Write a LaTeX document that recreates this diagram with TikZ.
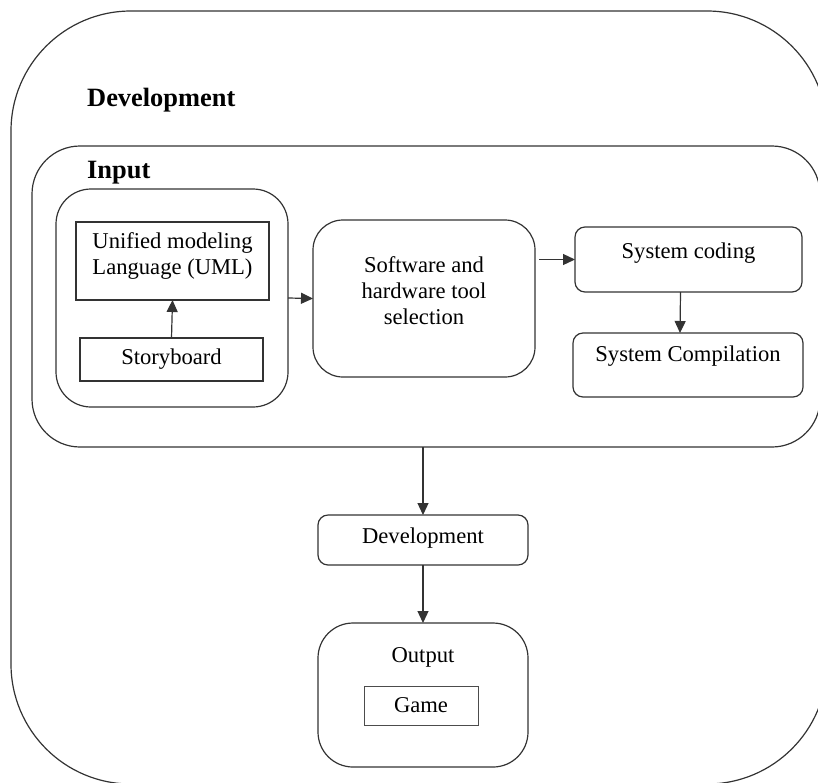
\documentclass[tikz,border=0pt]{standalone}
\usepackage{fontspec}
\setmainfont{Liberation Serif}
\usetikzlibrary{arrows.meta}
\begin{document}
\begin{tikzpicture}[x=1pt,y=-1pt,
  line/.style={draw=black!80, line width=1.2pt},
  frame/.style={line, anchor=north west, inner sep=0pt, outer sep=0pt},
  txt/.style={font=\fontsize{22.6}{26}\selectfont, align=center, inner sep=0pt},
  head/.style={font=\fontsize{26.4}{30}\selectfont\bfseries, inner sep=0pt, anchor=base west},
  arr/.style={line, -{Triangle[length=12pt,width=11pt]}}
]
\useasboundingbox (0,0) rectangle (818,782);
\clip (0,0) rectangle (818,782);

% outer development frame and the input frame
\node[frame, rounded corners=120pt, minimum width=816pt, minimum height=773pt] (devframe) at (11,11) {};
\node[frame, rounded corners=48pt, minimum width=788pt, minimum height=301pt] (inputbox) at (32,146) {};
\node[head] (devhead) at (87,106) {Development};
\node[head] (inhead) at (87,178) {Input};

% modelling group
\node[frame, rounded corners=35pt, minimum width=232pt, minimum height=218pt] (group) at (56,189) {};
\node[frame, minimum width=193pt, minimum height=78pt] (uml) at (76,222) {};
\node[txt] (umltxt) at ([yshift=5pt]uml.center) {Unified modeling\\Language (UML)};
\node[frame, minimum width=183pt, minimum height=43pt] (story) at (80,338) {};
\node[txt] (storytxt) at (story.center) {Storyboard};

% tool selection
\node[frame, rounded corners=30pt, minimum width=222pt, minimum height=157pt] (soft) at (313,220) {};
\node[txt] (softtxt) at ([yshift=8pt]soft.center) {Software and\\hardware tool\\selection};

% coding and compilation
\node[frame, rounded corners=10pt, minimum width=227pt, minimum height=65pt] (coding) at (575,227) {};
\node[txt] (codingtxt) at ([yshift=6pt]coding.center) {System coding};
\node[frame, rounded corners=10pt, minimum width=230pt, minimum height=64pt] (comp) at (573,333) {};
\node[txt] (comptxt) at ([yshift=9pt]comp.center) {System Compilation};

% development and output
\node[frame, rounded corners=10pt, minimum width=210pt, minimum height=50pt] (dev) at (318,515) {};
\node[txt] (devtxt) at ([yshift=2pt]dev.center) {Development};
\node[frame, rounded corners=35pt, minimum width=210pt, minimum height=144pt] (output) at (318,623) {};
\node[txt] (outtxt) at ([yshift=38pt]output.center) {Output};
\node[frame, draw=black!70, line width=1pt, minimum width=114pt, minimum height=39pt] (game) at (364,686) {};
\node[txt] (gametxt) at (game.center) {Game};

% connectors
\draw[arr] (story.north) -- (uml.south);
\draw[arr] (group.east) -- (soft.west);
\path (soft.east |- coding.west) coordinate (sc);
\draw[arr] ([xshift=4pt]sc) -- (coding.west);
\draw[arr] ([xshift=-8pt]coding.south) -- ([xshift=-8pt]comp.north);
\draw[arr] (dev.north |- inputbox.south) -- (dev.north);
\draw[arr] (dev.south) -- (output.north);
\end{tikzpicture}
\end{document}
